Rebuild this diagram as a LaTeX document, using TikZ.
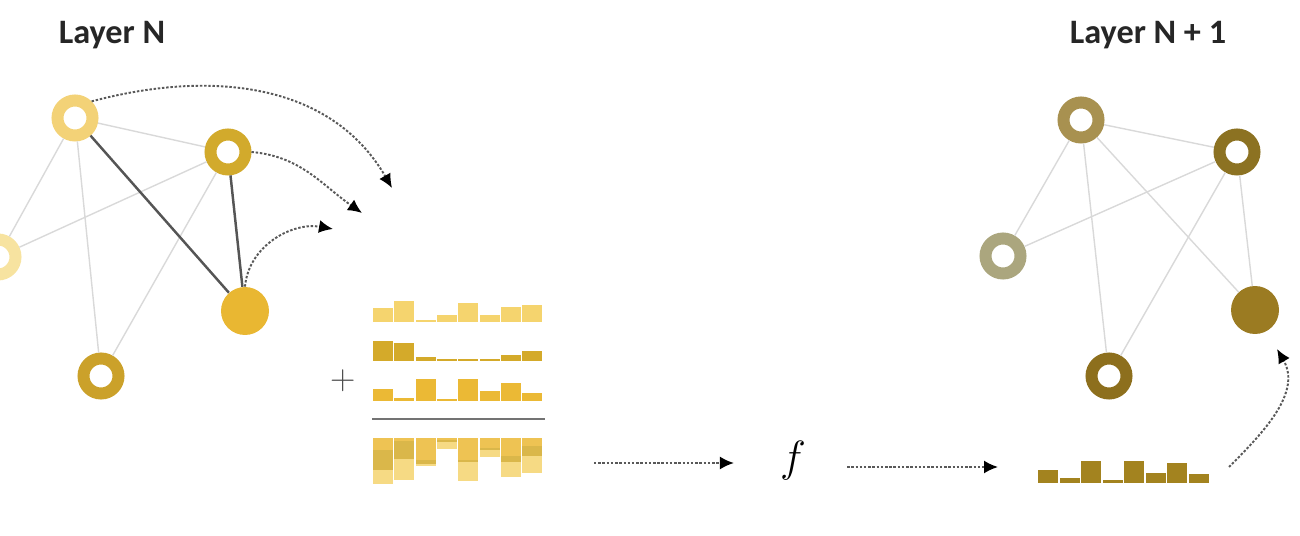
\documentclass[tikz,border=0pt]{standalone}
\usepackage{fontspec}
\newfontfamily\labelfont{Carlito}
\usetikzlibrary{arrows.meta}

\definecolor{goldA}{HTML}{F3D277}
\definecolor{goldB}{HTML}{D2AA2C}
\definecolor{goldC}{HTML}{F7E3A0}
\definecolor{goldD}{HTML}{E9B732}
\definecolor{goldE}{HTML}{CBA12A}
\definecolor{oliveA}{HTML}{A89150}
\definecolor{oliveB}{HTML}{8C7222}
\definecolor{oliveC}{HTML}{ABA67E}
\definecolor{oliveD}{HTML}{9B7B22}
\definecolor{oliveE}{HTML}{8D6F1D}
\definecolor{rowone}{HTML}{F5D46E}
\definecolor{rowtwo}{HTML}{D4AA2A}
\definecolor{rowthree}{HTML}{EBB935}
\definecolor{outbar}{HTML}{A3831F}
\definecolor{edgegray}{HTML}{D9D9D9}
\definecolor{edgedark}{HTML}{555555}

\begin{document}
\begin{tikzpicture}[
        x=0.02cm, y=-0.02cm,
        ring/.style={circle, draw=#1, line width=0.24cm, minimum size=0.7cm, inner sep=0pt},
        blob/.style={circle, fill=#1, minimum size=0.96cm, inner sep=0pt},
        light/.style={draw=edgegray, line width=0.8pt},
        heavy/.style={draw=edgedark, line width=1.4pt},
        flow/.style={draw=black!65, line width=1.1pt, dash pattern=on 1.4pt off 1pt,
                     -{Latex[length=0.28cm, width=0.26cm, black]}},
        title/.style={font=\labelfont\bfseries\fontsize{19.5}{22}\selectfont, text=black!85}
    ]
    \useasboundingbox (0,0) rectangle (1300,536);
    \clip (0,0) rectangle (1300,536);

    % layer N
    \node[title] (titleN) at (112,35) {Layer N};
    \node[ring=goldA] (a) at (75,118) {};
    \node[ring=goldB] (b) at (228,152) {};
    \node[ring=goldC] (c) at (-2,257) {};
    \node[blob=goldD] (d) at (245,311) {};
    \node[ring=goldE] (e) at (101,376) {};

    \draw[light] (a) -- (c);
    \draw[light] (a) -- (e);
    \draw[light] (a) -- (b);
    \draw[light] (b) -- (c);
    \draw[light] (b) -- (e);
    \draw[heavy] (a) -- (d);
    \draw[heavy] (b) -- (d);

    % messages
    \coordinate (msgA) at (392,188);
    \coordinate (msgB) at (362,213);
    \coordinate (msgD) at (333,229);
    \draw[flow] (a.north east) to[out=15, in=120] (msgA);
    \draw[flow] (b.east) to[out=-5, in=145] (msgB);
    \draw[flow] (d.north) to[out=85, in=170] (msgD);

    % aggregation
    \node[font=\fontsize{20}{20}\selectfont, text=black!70] (plus) at (343,381) {+};
    \foreach \h [count=\i from 0] in {14,21,2,7,19,7,15,17}
        \fill[rowone] ({373+21.3*\i},322) rectangle ++(20,-\h);
    \foreach \h [count=\i from 0] in {20,18,4,2,2,2,6,10}
        \fill[rowtwo] ({373+21.3*\i},361) rectangle ++(20,-\h);
    \foreach \h [count=\i from 0] in {12,3,22,2,22,10,18,8}
        \fill[rowthree] ({373+21.3*\i},401) rectangle ++(20,-\h);
    \draw[black!55, line width=1.3pt] (372,419) -- (545,419);
    \foreach \p/\q/\r [count=\i from 0] in {12/20/14,3/18/21,22/4/2,2/2/7,22/2/19,10/2/7,18/6/15,8/10/17} {
        \fill[rowthree, opacity=0.85] ({373+21.3*\i},438) rectangle ++(20,\p);
        \fill[rowtwo, opacity=0.85] ({373+21.3*\i},{438+\p}) rectangle ++(20,\q);
        \fill[rowone, opacity=0.85] ({373+21.3*\i},{438+\p+\q}) rectangle ++(20,\r);
    }

    % update
    \node (f) at (793,461) {\fontsize{28}{28}\selectfont$f$};
    \coordinate (sumout) at (594,463);
    \coordinate (outin) at (998,467);
    \draw[flow, shorten >=0.8cm] (sumout) -- (f.west |- sumout);
    \draw[flow, shorten <=0.7cm] (f.east |- outin) -- (outin);

    \foreach \h [count=\i from 0] in {13,5,22,3,22,10,20,9}
        \fill[outbar] ({1038+21.5*\i},483) rectangle ++(20,-\h);
    \coordinate (outtail) at (1229,467);

    % layer N + 1
    \node[title] (titleM) at (1148,35) {Layer N + 1};
    \node[ring=oliveA] (a2) at (1081,120) {};
    \node[ring=oliveB] (b2) at (1237,152) {};
    \node[ring=oliveC] (c2) at (1003,256) {};
    \node[blob=oliveD] (d2) at (1255,310) {};
    \node[ring=oliveE] (e2) at (1109,376) {};

    \draw[light] (a2) -- (c2);
    \draw[light] (a2) -- (e2);
    \draw[light] (a2) -- (b2);
    \draw[light] (a2) -- (d2);
    \draw[light] (b2) -- (c2);
    \draw[light] (b2) -- (e2);
    \draw[light] (b2) -- (d2);

    \coordinate (newD) at (1277,349);
    \draw[flow] (outtail) to[out=45, in=-60] (newD);
\end{tikzpicture}
\end{document}
